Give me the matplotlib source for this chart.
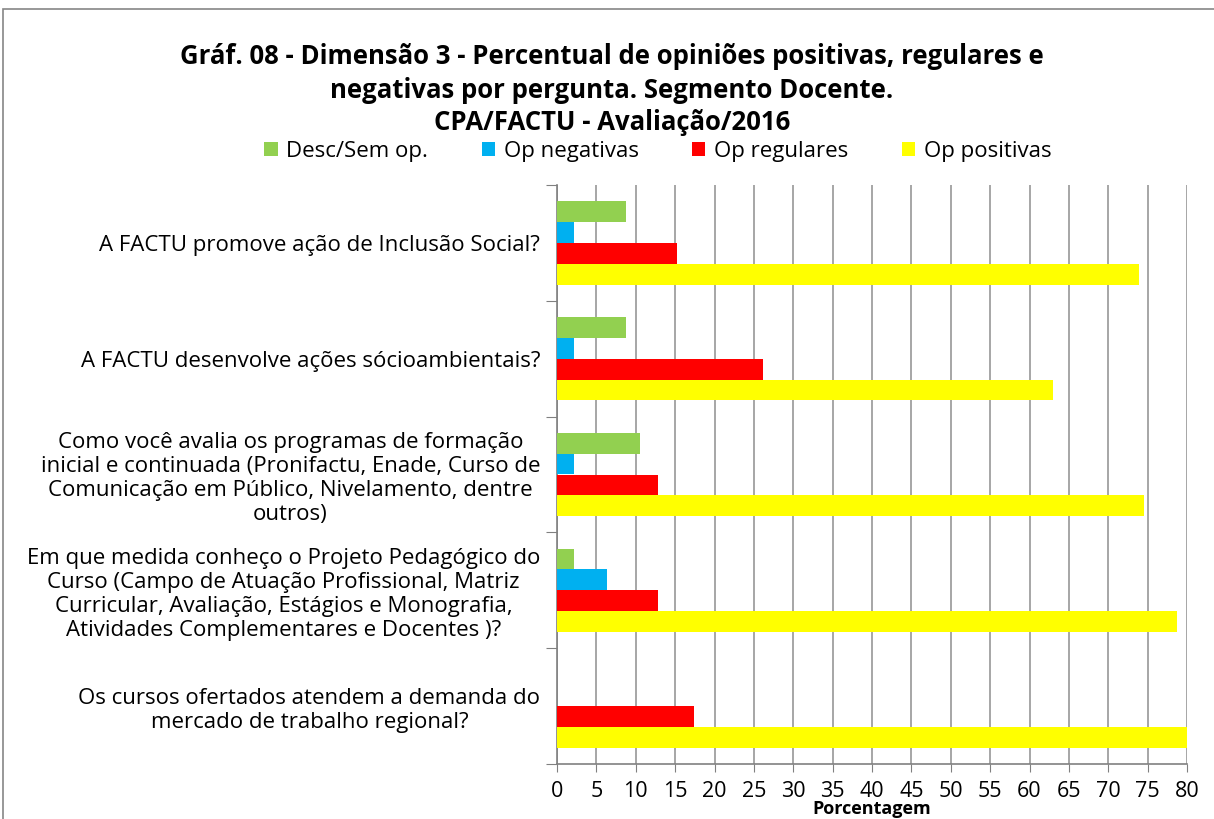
import numpy as np
import matplotlib
matplotlib.use('Agg')
import matplotlib.pyplot as plt
from matplotlib.patches import Rectangle

plt.rcParams['font.family'] = ['Open Sans', 'DejaVu Sans']

# Questions (top to bottom)
questions = [
    'A FACTU promove ação de Inclusão Social?',
    'A FACTU desenvolve ações sócioambientais?',
    'Como você avalia os programas de formação\ninicial e continuada (Pronifactu, Enade, Curso de\n'
    'Comunicação em Público, Nivelamento, dentre\noutros)',
    'Em que medida conheço o Projeto Pedagógico do\nCurso (Campo de Atuação Profissional, Matriz\n'
    'Curricular, Avaliação, Estágios e Monografia,\nAtividades Complementares e Docentes )?',
    'Os cursos ofertados atendem a demanda do\nmercado de trabalho regional?',
]

# Percentages per series
desc_sem_op = [8.7, 8.7, 10.6, 2.1, 0.0]
op_negativas = [2.1, 2.1, 2.1, 6.4, 0.0]
op_regulares = [15.2, 26.1, 12.8, 12.8, 17.4]
op_positivas = [73.9, 63.0, 74.5, 78.7, 82.6]

series = [
    ('Desc/Sem op.', desc_sem_op, '#92D050'),
    ('Op negativas', op_negativas, '#00B0F0'),
    ('Op regulares', op_regulares, '#FF0000'),
    ('Op positivas', op_positivas, '#FFFF00'),
]

fig = plt.figure(figsize=(12.14, 8.19), dpi=100)
ax = fig.add_axes([557 / 1214, 1 - 764 / 819, 630 / 1214, 579 / 819])

y = np.arange(len(questions))
h = 0.18
offsets = [-1.5 * h, -0.5 * h, 0.5 * h, 1.5 * h]
for (name, vals, col), off in zip(series, offsets):
    ax.barh(y + off, vals, height=h, color=col, label=name, zorder=3)

ax.set_xlim(0, 80)
ax.set_ylim(len(questions) - 0.5, -0.5)
ax.set_xticks(np.arange(0, 81, 5))
ax.tick_params(axis='x', labelsize=15.5, length=6, color='#808080', pad=6)
ax.grid(axis='x', color='#A6A6A6', linewidth=1.4, zorder=0)

# y ticks at category boundaries, labels at centers
ax.set_yticks(np.arange(-0.5, len(questions), 1.0))
ax.set_yticklabels([])
ax.tick_params(axis='y', length=8, color='#808080')
ax.set_yticks(y, minor=True)
ax.set_yticklabels(questions, minor=True, fontsize=16, multialignment='center')
ax.tick_params(axis='y', which='minor', length=0, pad=12)

for s in ['top', 'right']:
    ax.spines[s].set_visible(False)
for s in ['left', 'bottom']:
    ax.spines[s].set_color('#808080')
    ax.spines[s].set_linewidth(1.2)

ax.set_xlabel('Porcentagem', fontsize=13, fontweight='bold', labelpad=-1)

title_lines = ['Gráf. 08 - Dimensão 3 - Percentual de opiniões positivas, regulares e',
               'negativas por pergunta. Segmento Docente.',
               'CPA/FACTU - Avaliação/2016']
for i, line in enumerate(title_lines):
    fig.text(0.504, 1 - (57 + 33 * i) / 819, line,
             ha='center', va='center', fontsize=18.5, fontweight='bold')

fig.legend(loc='center', bbox_to_anchor=(0.542, 1 - 151 / 819), ncol=4, frameon=False,
           fontsize=16, handlelength=0.6, handleheight=0.6, handletextpad=0.4,
           columnspacing=2.4, borderpad=0)

# chart border
fig.patches.append(Rectangle((3 / 1214, -0.1), 1.2, 1 - 9 / 819 + 0.1, transform=fig.transFigure,
                             fill=False, edgecolor='#868686', linewidth=1.2))

fig.savefig('out.png', dpi=100)
